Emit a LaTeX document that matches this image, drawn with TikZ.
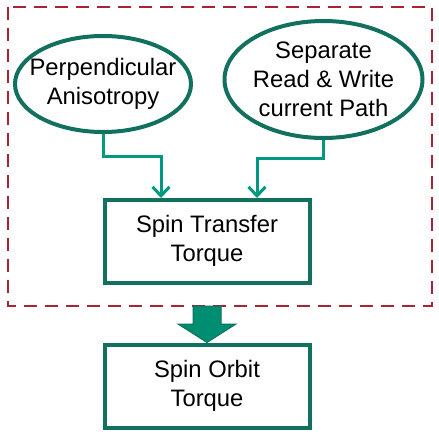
\documentclass[tikz,border=0pt]{standalone}
\usepackage{fontspec}
\setmainfont{Liberation Sans}
\definecolor{cadre}{RGB}{168,36,52}
\definecolor{vertfonce}{RGB}{18,112,94}
\definecolor{vertclair}{RGB}{0,152,126}
\definecolor{vertplein}{RGB}{0,142,114}
\tikzset{
  bulle/.style={draw=vertfonce, line width=4pt, ellipse, inner ysep=0pt, align=center},
  boite/.style={draw=vertfonce, line width=4pt, minimum width=205pt, minimum height=83pt, inner sep=0pt, align=center},
  fleche/.style={draw=vertclair, line width=3pt, -{Straight Barb[length=9pt,width=17pt]}},
}
\usetikzlibrary{shapes.geometric,arrows.meta}
\begin{document}
\begin{tikzpicture}[x=1pt,y=-1pt]  % ------ STT -> SOT -------
\useasboundingbox (0,0) rectangle (439,434);
\fontsize{23.8}{29}\selectfont
    \draw[cadre, line width=2.8pt, dash pattern=on 13pt off 8pt] (8,7) rectangle (432,306);

    \node[bulle, inner xsep=-12pt, minimum width=176pt, minimum height=96pt] (perp) at (103,84) {Perpendicular\\Anisotropy};
    \node[bulle, inner xsep=-1.5pt, minimum width=198pt, minimum height=117pt] (sep) at (323.5,79.5) {Separate\\Read \& Write\\current Path};
    \node[boite] (stt) at (207,241) {Spin Transfer\\Torque};
    \node[boite] (sot) at (207,386) {Spin Orbit\\Torque};

    \coordinate (inL) at (161,198);
    \coordinate (inR) at (257,198);
    \draw[fleche] (perp.south) -- ++(0,22) -| (inL);
    \draw[fleche] (sep.south) -- ++(0,18) -| (inR);

    % grosse fleche
    \draw[draw=vertfonce, fill=vertplein, line width=1pt, line join=miter]
      (193,306) -- (221,306) -- (221,324) -- (236,324) -- (sot.north) -- (178,324) -- (193,324) -- cycle;
\end{tikzpicture}
\end{document}
